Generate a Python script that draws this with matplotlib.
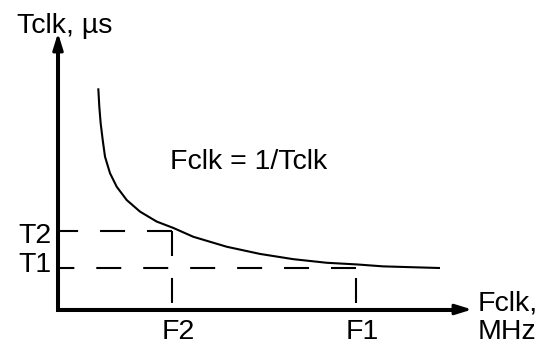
import matplotlib
matplotlib.use("Agg")
import matplotlib.pyplot as plt

plt.rcParams['font.family'] = ['Liberation Sans', 'DejaVu Sans']
plt.rcParams['lines.scale_dashes'] = False

# Curve Tclk vs Fclk (arbitrary units)
fclk = [0.973, 0.998, 1.031, 1.080, 1.135, 1.256, 1.418, 1.659, 1.981, 2.384,
        2.785, 3.268, 4.075, 4.879, 5.684, 6.490, 7.215, 7.850, 9.227]
tclk = [8.00, 7.33, 6.73, 6.13, 5.53, 4.93, 4.44, 3.96, 3.54, 3.18,
        2.95, 2.63, 2.27, 2.01, 1.82, 1.69, 1.63, 1.56, 1.50]

F2, F1 = 2.75, 7.20
T2, T1 = 2.84, 1.50
x_max, y_max = 10.0, 10.0

fig = plt.figure(figsize=(5.39, 3.44), dpi=100)
ax = fig.add_axes([58/539, (344-309.5)/344, (472-58)/539, (309.5-33)/344])
ax.set_xlim(0, x_max)
ax.set_ylim(0, y_max)
ax.axis('off')

# curve
ax.plot(fclk, tclk, color='black', lw=1.5, solid_capstyle='butt',
        solid_joinstyle='round', clip_on=False)

# dashed guide lines (drawn from the corner outward)
dash = (18, 15.8)
ax.plot([F2, 0], [T2, T2], color='black', lw=1.5, linestyle=(0, dash), clip_on=False)
ax.plot([F2, F2], [T2, 0], color='black', lw=1.5, linestyle=(0, dash), clip_on=False)
ax.plot([F1, 0], [T1, T1], color='black', lw=1.5, linestyle=(0, dash), clip_on=False)
ax.plot([F1, F1], [T1, 0], color='black', lw=1.5, linestyle=(26.6, dash), clip_on=False)

# axes with arrows
ax.plot([0, 0, x_max * 0.96], [y_max * 0.95, 0, 0], color='black', lw=2.9,
        solid_joinstyle='miter', solid_capstyle='butt', clip_on=False)
arrow_kw = dict(arrowstyle='-|>,head_length=0.55,head_width=0.17', color='black',
                lw=2.2, shrinkA=0, shrinkB=0, mutation_scale=18)
ax.annotate('', xy=(0, y_max), xytext=(0, 0), arrowprops=arrow_kw, annotation_clip=False)
ax.annotate('', xy=(x_max, 0), xytext=(0, 0), arrowprops=arrow_kw, annotation_clip=False)

fs = 20.5
ax.text(-0.99, 10.0, 'Tclk, µs', fontsize=fs, ha='left', va='baseline', clip_on=False)
ax.text(2.71, 5.08, 'Fclk = 1/Tclk', fontsize=fs, ha='left', va='baseline')
ax.text(-0.145, 2.40, 'T2', fontsize=fs, ha='right', va='baseline', clip_on=False)
ax.text(-0.145, 1.36, 'T1', fontsize=fs, ha='right', va='baseline', clip_on=False)
ax.text(2.90, -1.067, 'F2', fontsize=fs, ha='center', va='baseline', clip_on=False)
ax.text(7.34, -1.067, 'F1', fontsize=fs, ha='center', va='baseline', clip_on=False)
ax.text(10.14, -0.02, 'Fclk,', fontsize=fs, ha='left', va='baseline', clip_on=False)
ax.text(10.14, -1.067, 'MHz', fontsize=fs, ha='left', va='baseline', clip_on=False)

fig.savefig('out.png', dpi=100)
